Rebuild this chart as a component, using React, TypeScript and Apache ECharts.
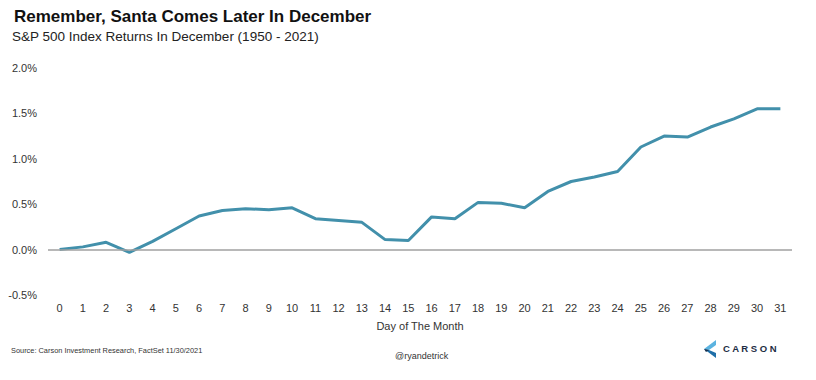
import React, { useEffect, useRef } from "react";
import * as echarts from "echarts";

const days = ["0","1","2","3","4","5","6","7","8","9","10","11","12","13","14","15","16","17","18","19","20","21","22","23","24","25","26","27","28","29","30","31"];
const returns = [0.0, 0.03, 0.08, -0.03, 0.09, 0.23, 0.37, 0.43, 0.45, 0.44, 0.46, 0.34, 0.32, 0.3, 0.11, 0.1, 0.36, 0.34, 0.52, 0.51, 0.46, 0.64, 0.75, 0.8, 0.86, 1.13, 1.25, 1.24, 1.35, 1.44, 1.55, 1.55];
const titleText = "Remember, Santa Comes Later In December";
const subtitleText = "S&P 500 Index Returns In December (1950 - 2021)";
const sourceText = "Source: Carson Investment Research, FactSet 11/30/2021";
const handleText = "@ryandetrick";
const xAxisName = "Day of The Month";
const logoText = "C A R S O N";

export default function App() {
  const ref = useRef<HTMLDivElement>(null);
  useEffect(() => {
    if (!ref.current) return;
    const chart = echarts.init(ref.current, null, { renderer: "svg" });
    const font = "'Liberation Sans', Arial, sans-serif";
    chart.setOption({
      animation: false,
      backgroundColor: "#ffffff",
      textStyle: { fontFamily: font },
      grid: { left: 48, right: 24, top: 68, bottom: 85 },
      xAxis: {
        type: "category",
        data: days,
        boundaryGap: true,
        axisLine: { show: false },
        axisTick: { show: false },
        axisLabel: { color: "#333", fontSize: 11, margin: 7, fontFamily: font },
        name: xAxisName,
        nameLocation: "middle",
        nameGap: 25,
        nameTextStyle: { color: "#333", fontSize: 11, fontFamily: font },
      },
      yAxis: {
        type: "value",
        min: -0.5,
        max: 2.0,
        interval: 0.5,
        splitLine: { show: false },
        axisLine: { show: false },
        axisTick: { show: false },
        axisLabel: {
          color: "#333",
          fontSize: 11,
          margin: 11,
          fontFamily: font,
          formatter: (v: number) => v.toFixed(1) + "%",
        },
      },
      series: [
        {
          type: "line",
          data: returns,
          symbol: "none",
          lineStyle: { color: "#4290ab", width: 3 },
          markLine: {
            silent: true,
            symbol: "none",
            label: { show: false },
            lineStyle: { color: "#a0a0a0", width: 1.5, type: "solid" },
            data: [{ yAxis: 0 }],
          },
          z: 3,
        },
      ],
      graphic: [
        {
          type: "text",
          left: 14,
          top: 8,
          style: { text: titleText, fontSize: 17, fontWeight: "bold", fill: "#111", fontFamily: font },
        },
        {
          type: "text",
          left: 12,
          top: 29,
          style: { text: subtitleText, fontSize: 13.5, fill: "#222", fontFamily: font },
        },
        {
          type: "text",
          left: 11,
          top: 347,
          style: { text: sourceText, fontSize: 7.4, fill: "#333", fontFamily: font },
        },
        {
          type: "text",
          left: 395,
          top: 351,
          style: { text: handleText, fontSize: 9, fill: "#333", fontFamily: font },
        },
        {
          type: "polygon",
          shape: { points: [[716, 340], [704, 349], [709, 350], [716, 345]] },
          style: { fill: "#5bb3e0" },
        },
        {
          type: "polygon",
          shape: { points: [[704, 349], [716, 358], [716, 353], [709, 350]] },
          style: { fill: "#1f6fa8" },
        },
        {
          type: "polygon",
          shape: { points: [[704, 349], [709, 350], [706, 352]] },
          style: { fill: "#14304f" },
        },
        {
          type: "text",
          left: 723,
          top: 343,
          style: { text: logoText, fontSize: 9.5, fontWeight: "bold", fill: "#1e2d44", fontFamily: font },
        },
      ],
    });
    return () => chart.dispose();
  }, []);
  return <div ref={ref} style={{ width: 816, height: 380, position: "absolute", left: 0, top: 0 }} />;
}
